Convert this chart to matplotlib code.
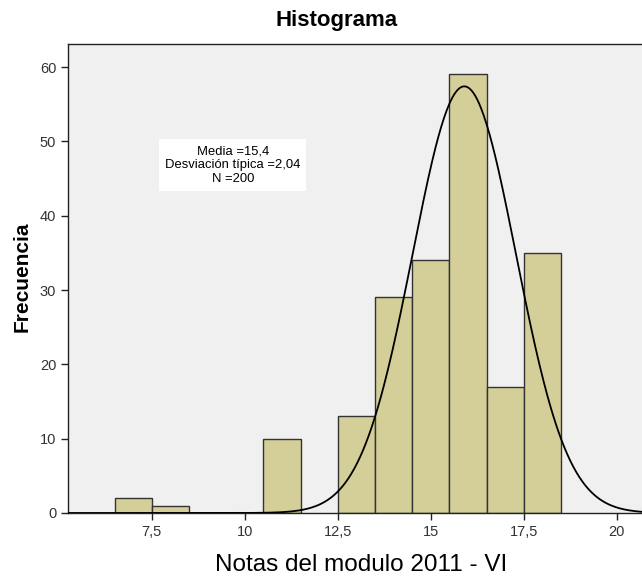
import numpy as np
import matplotlib
matplotlib.use("Agg")
import matplotlib.pyplot as plt
from matplotlib.ticker import FuncFormatter

# =================
# DATOS
# =================
bin_izq = [6.5, 7.5, 10.5, 12.5, 13.5, 14.5, 15.5, 16.5, 17.5]
frecuencias = [2, 1, 10, 13, 29, 34, 59, 17, 35]
ancho_bin = 1.0

# curva normal tal como aparece dibujada
curva_media = 15.9
curva_sd = 1.39
n_total = 200

texto_stats = ["Media =15,4", "Desviación típica =2,04", "N =200"]

plt.rcParams["font.family"] = ["Liberation Sans", "DejaVu Sans"]

fig = plt.figure(figsize=(6.42, 5.79), dpi=100)
ax = fig.add_axes([0.106, 0.114, 0.90, 0.810])
ax.set_facecolor("#f0f0f0")

ax.bar(bin_izq, frecuencias, width=ancho_bin, align="edge",
       color="#d4cf98", edgecolor="#333333", linewidth=1.0, zorder=2)

xs = np.linspace(5.25, 21, 400)
ys = n_total * ancho_bin / (curva_sd * np.sqrt(2 * np.pi)) * np.exp(-0.5 * ((xs - curva_media) / curva_sd) ** 2)
ax.plot(xs, ys, color="black", linewidth=1.3, zorder=3)

ax.set_xlim(5.25, 20.78)
ax.set_ylim(0, 63.1)
ax.set_xticks([7.5, 10, 12.5, 15, 17.5, 20])
ax.set_yticks(range(0, 61, 10))
ax.xaxis.set_major_formatter(FuncFormatter(lambda v, p: f"{v:g}".replace(".", ",")))
ax.tick_params(direction="out", length=5, width=1, labelsize=10.5, colors="#222222", labelcolor="#333333")

for lado in ["left", "top", "bottom", "right"]:
    ax.spines[lado].set_color("#222222")
    ax.spines[lado].set_linewidth(1.0)

ax.text(0.285, 0.742, "\n".join(texto_stats), transform=ax.transAxes, ha="center", va="center",
        fontsize=9.4, linespacing=1.2, color="black", zorder=4,
        bbox=dict(boxstyle="square,pad=0.45", facecolor="white", edgecolor="none"))

fig.text(0.525, 0.965, "Histograma", ha="center", va="center", fontsize=16, fontweight="bold")
fig.text(0.562, 0.025, "Notas del modulo 2011 - VI", ha="center", va="center", fontsize=17.5)
fig.text(0.034, 0.522, "Frecuencia", ha="center", va="center", rotation=90, fontsize=15, fontweight="bold")

fig.savefig("out.png", dpi=100)
